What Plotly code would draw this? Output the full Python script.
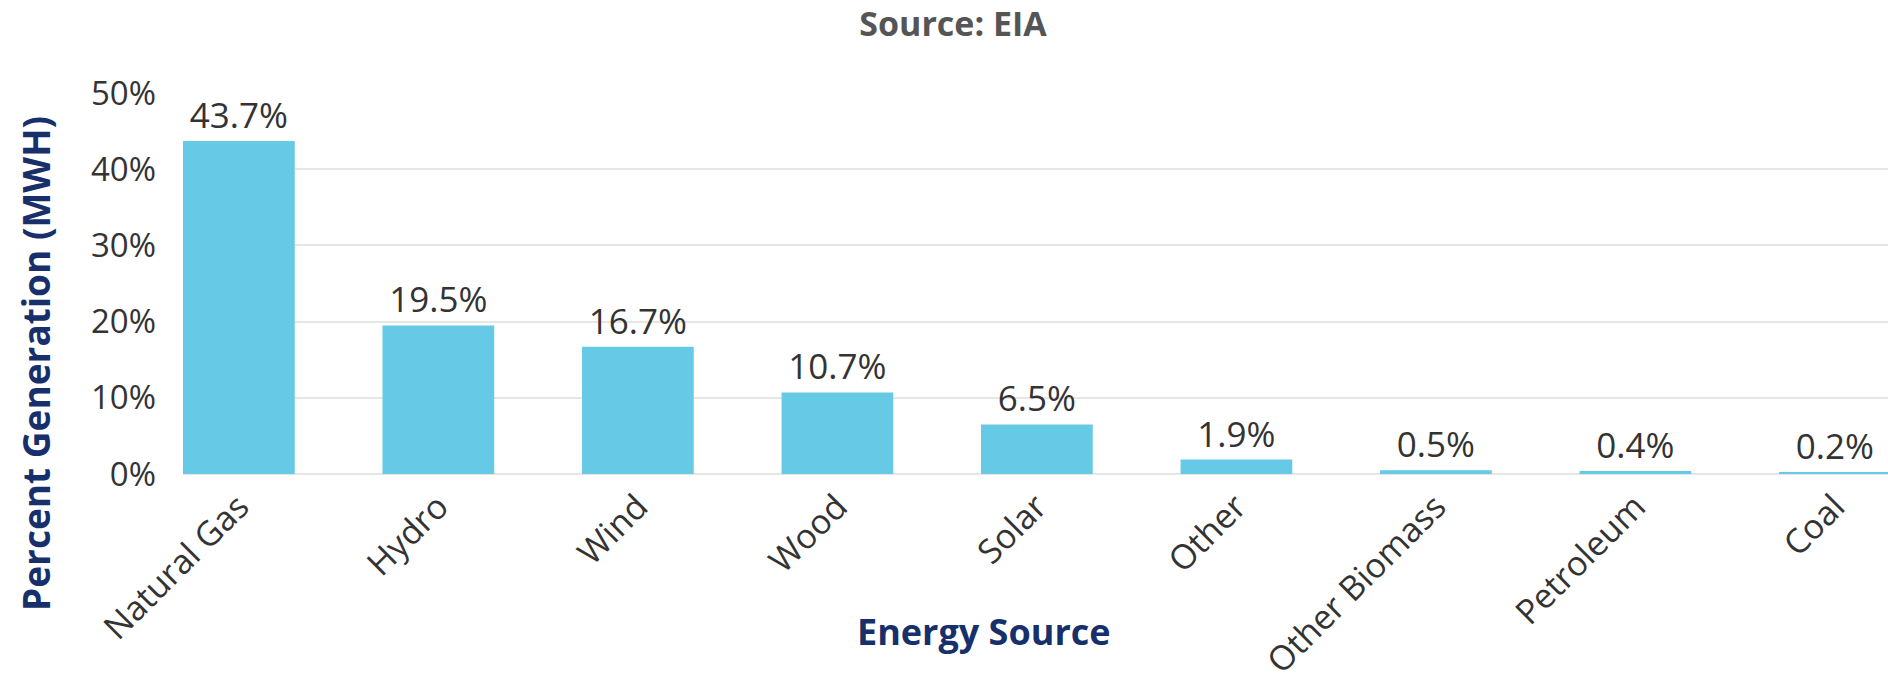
import plotly.graph_objects as go

categories = ["Natural Gas", "Hydro", "Wind", "Wood", "Solar", "Other",
              "Other Biomass", "Petroleum", "Coal"]
values = [43.7, 19.5, 16.7, 10.7, 6.5, 1.9, 0.5, 0.4, 0.2]
y_ticks = [0, 10, 20, 30, 40, 50]
y_tick_labels = ["0%", "10%", "20%", "30%", "40%", "50%"]

FONT = "Open Sans"
NAVY = "#17306b"

fig = go.Figure(go.Bar(
    x=list(range(len(categories))),
    y=values,
    marker=dict(color="#66c9e6", line=dict(width=0)),
    text=[f"{v}%" for v in values],
    textposition="outside",
    textfont=dict(family=FONT, size=35, color="#333333"),
    cliponaxis=False,
    width=0.56,
))

fig.update_layout(
    width=1888, height=682,
    margin=dict(l=183, r=0, t=93, b=208, autoexpand=False),
    paper_bgcolor="white", plot_bgcolor="white",
    showlegend=False,
    title=dict(text="<b>Source: EIA</b>", x=953 / 1888, xref="container", xanchor="center",
               y=1 - 24 / 682, yanchor="middle",
               font=dict(family=FONT, size=34, color="#555555")),
    font=dict(family=FONT, color="#333333"),
)

fig.update_xaxes(
    tickmode="array", tickvals=list(range(len(categories))), ticktext=categories,
    tickangle=-45, range=[-0.28, 8.266], automargin=False,
    tickfont=dict(family=FONT, size=34, color="#333333"),
    ticklabelstandoff=5,
    showgrid=False, showline=False, zeroline=False, ticks="",
)
fig.update_yaxes(
    range=[0, 50], tickmode="array", tickvals=y_ticks, ticktext=y_tick_labels,
    tickfont=dict(family=FONT, size=33, color="#333333"), automargin=False,
    showgrid=True, gridcolor="#e6e6e6", gridwidth=2,
    zeroline=True, zerolinecolor="#e6e6e6", zerolinewidth=2,
    showline=False, ticks="", ticklabelstandoff=26,
)

fig.add_annotation(text="<b>Energy Source</b>", xref="paper", yref="paper",
                   x=(984 - 183) / 1705, y=-(631 - 474) / 381,
                   xanchor="center", yanchor="middle", showarrow=False,
                   font=dict(family=FONT, size=36, color=NAVY))
fig.add_annotation(text="<b>Percent Generation (MWH)</b>", xref="paper", yref="paper",
                   x=-(183 - 36) / 1705, y=(474 - 364) / 381,
                   xanchor="center", yanchor="middle", showarrow=False, textangle=-90,
                   font=dict(family=FONT, size=37, color=NAVY))

fig.write_html("out.html", config={"displayModeBar": False},
               post_script="document.body.style.margin='0';document.body.style.overflow='hidden';")
